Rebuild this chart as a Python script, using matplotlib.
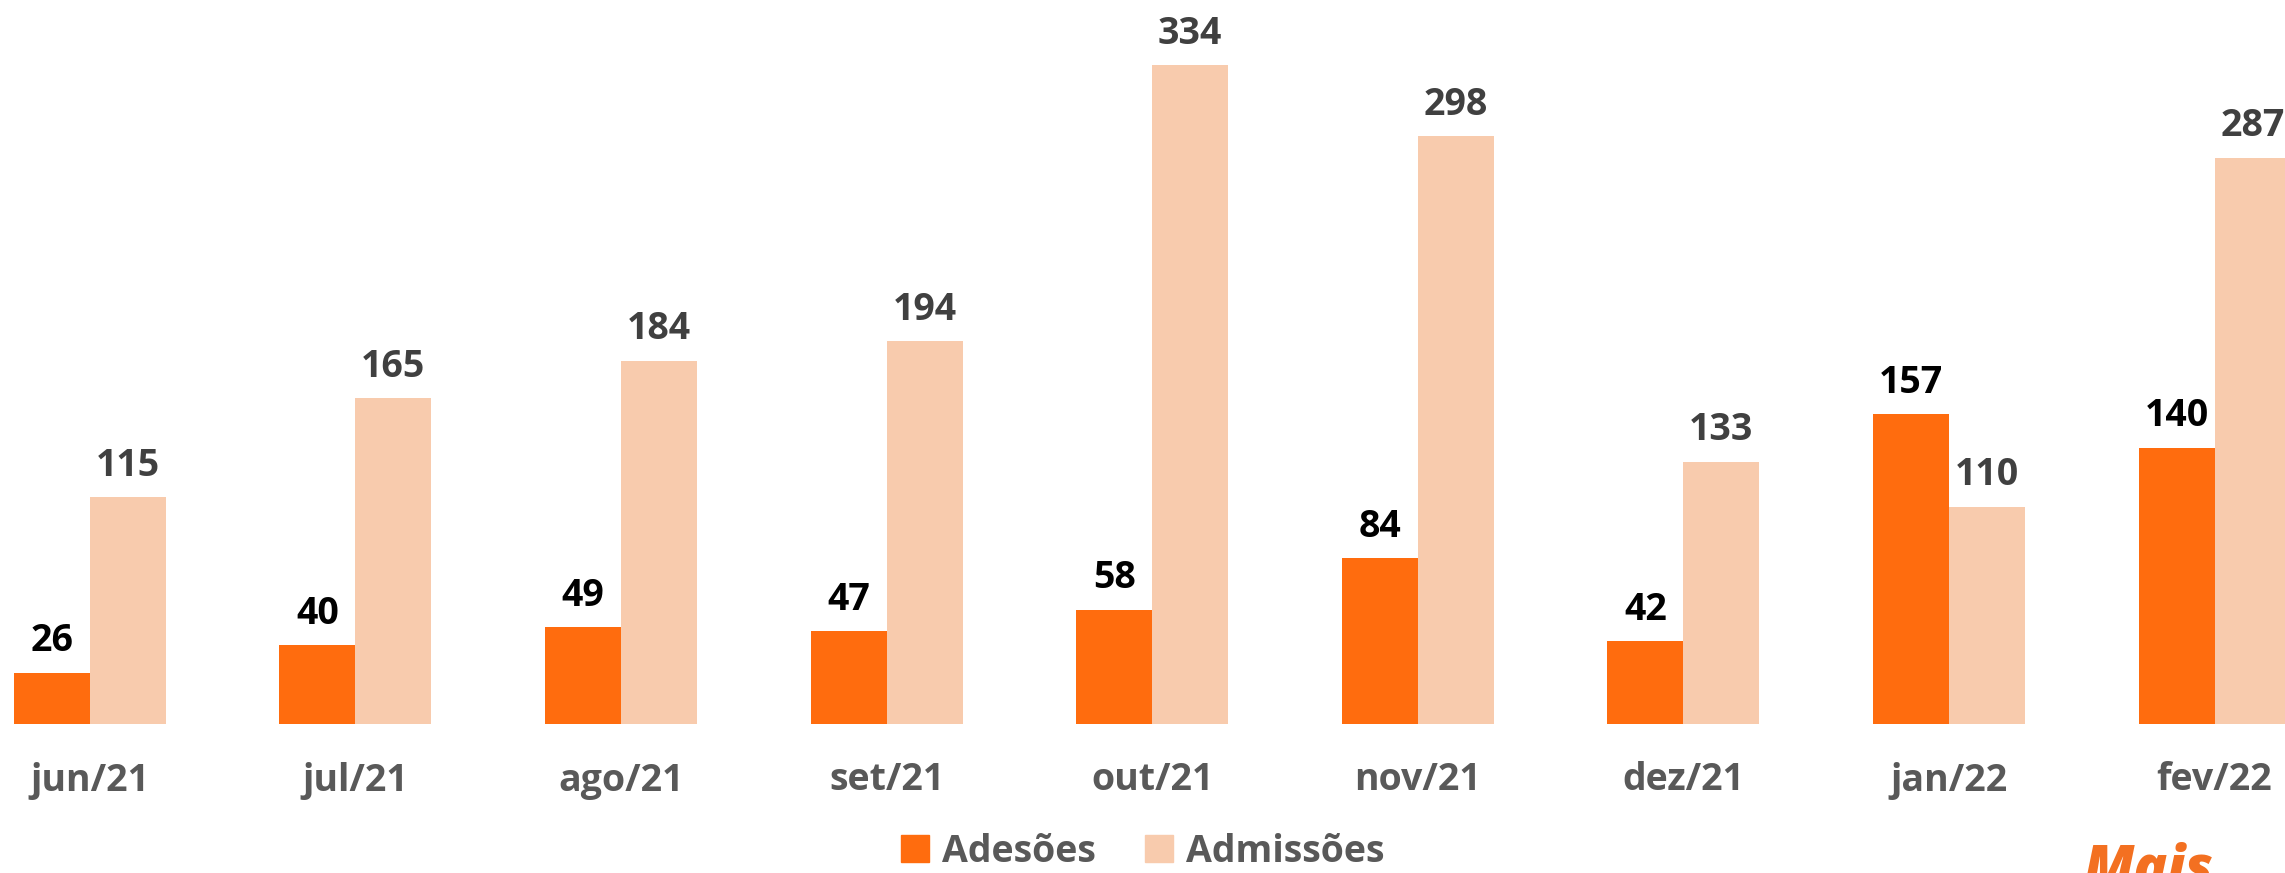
import matplotlib.pyplot as plt
from matplotlib.patches import Patch
import numpy as np

plt.rcParams['font.family'] = ['Open Sans', 'DejaVu Sans']

# dados
meses = ['jun/21', 'jul/21', 'ago/21', 'set/21', 'out/21', 'nov/21', 'dez/21', 'jan/22', 'fev/22']
adesoes = [26, 40, 49, 47, 58, 84, 42, 157, 140]
admissoes = [115, 165, 184, 194, 334, 298, 133, 110, 287]

cor_adesoes = '#FF6C0E'
cor_admissoes = '#F8CBAD'

fig = plt.figure(figsize=(22.85, 8.73), dpi=100)
# eixo: base das barras em y=724px, 1.973 px por unidade
ax = fig.add_axes([0, 149 / 873, 1, 724 / 873])
x = np.arange(len(meses))
w = 0.286

b1 = ax.bar(x - w / 2, adesoes, w, color=cor_adesoes)
b2 = ax.bar(x + w / 2, admissoes, w, color=cor_admissoes)

for rect, v in zip(b1, adesoes):
    ax.annotate(str(v), (rect.get_x() + rect.get_width() / 2, v), xytext=(0, 9),
                textcoords='offset points', ha='center', va='bottom',
                fontsize=27, fontweight='bold', color='#000000')
for rect, v in zip(b2, admissoes):
    ax.annotate(str(v), (rect.get_x() + rect.get_width() / 2, v), xytext=(0, 9),
                textcoords='offset points', ha='center', va='bottom',
                fontsize=27, fontweight='bold', color='#404040')

ax.set_xlim(-0.338, (2285 - 89.7) / 265.6)
ax.set_ylim(0, 724 / 1.973)
ax.set_xticks(x)
ax.set_xticklabels(meses, fontsize=27, fontweight='bold', color='#595959')
ax.tick_params(axis='x', length=0, pad=27)
ax.set_yticks([])
for s in ax.spines.values():
    s.set_visible(False)

handles = [Patch(color=cor_adesoes, label='Adesões'), Patch(color=cor_admissoes, label='Admissões')]
leg = fig.legend(handles=handles, loc='lower center', bbox_to_anchor=(0.5, -0.036), ncol=2,
                 frameon=False, fontsize=27, handlelength=0.75, handleheight=0.75,
                 handletextpad=0.35, columnspacing=1.3)
for t in leg.get_texts():
    t.set_color('#595959')
    t.set_fontweight('bold')

fig.text(2083 / 2285, 1 - 842 / 873, 'Mais', ha='left', va='top', fontsize=40,
         fontweight='heavy', fontstyle='italic', color='#F37021')

fig.savefig('out.png', dpi=100)
